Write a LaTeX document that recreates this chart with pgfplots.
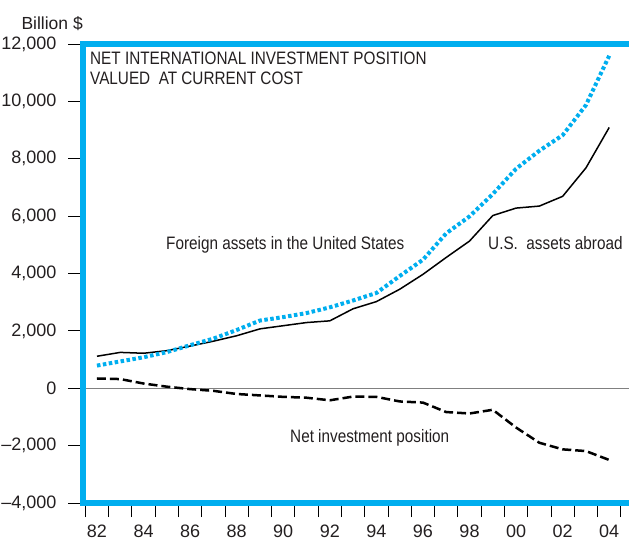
\documentclass[border=0pt]{standalone}
\usepackage{pgfplots}
\pgfplotsset{compat=1.18}
\usepackage{pgfplotstable}
\usepackage{fontspec}
\setmainfont{Liberation Sans}
\newfontfamily\condfont[FakeStretch=0.85]{Liberation Sans}
\definecolor{cyanb}{RGB}{0,174,239}
\definecolor{txt}{RGB}{35,31,32}
\pgfplotstableread{
year us foreign net
1982 1115 790 340
1983 1250 935 320
1984 1220 1080 165
1985 1310 1260 55
1986 1470 1500 -30
1987 1640 1730 -90
1988 1830 2030 -200
1989 2070 2360 -250
1990 2180 2480 -300
1991 2290 2620 -330
1992 2350 2820 -420
1993 2770 3060 -290
1994 3020 3320 -300
1995 3450 3910 -460
1996 3970 4480 -500
1997 4560 5400 -830
1998 5130 5990 -880
1999 6020 6770 -750
2000 6280 7650 -1370
2001 6350 8280 -1900
2002 6690 8820 -2130
2003 7680 9870 -2190
2004 9090 11590 -2500
}\datatable
\begin{document}
\begin{tikzpicture}
\begin{axis}[
  at={(83pt,38pt)}, anchor=south west,
  scale only axis, width=546pt, height=459pt,
  xmin=1981.4, xmax=2004.85, ymin=-4000, ymax=12000,
  axis line style={draw=none},
  clip=false,
  scaled y ticks=false,
  tick align=outside,
  xtick pos=bottom, ytick pos=left,
  ytick={-4000,-2000,...,12000},
  yticklabels={{–4,000},{–2,000},0,{2,000},{4,000},{6,000},{8,000},{10,000},{12,000}},
  xtick={1982,1984,...,2004},
  xticklabels={82,84,86,88,90,92,94,96,98,00,02,04},
  minor xtick={1981.5,1982.5,...,2004.5},
  major tick length=15pt,
  minor tick length=14pt,
  major x tick style={draw=none},
  tick style={black, line width=0.9pt},
  ticklabel style={font=\fontsize{18}{18}\selectfont, text=txt},
  yticklabel style={xshift=-8pt},
  xticklabel style={yshift=-3pt},
]
\addplot[gray, line width=1pt, forget plot] coordinates {(1981.4,0) (2004.85,0)};
\addplot[black, line width=1.5pt] table[x=year, y=us] {\datatable};
\addplot[cyanb, line width=4pt, dash pattern=on 3.5pt off 2.5pt] table[x=year, y=foreign] {\datatable};
\addplot[black, line width=2.5pt, dash pattern=on 9pt off 4pt] table[x=year, y=net] {\datatable};
\draw[cyanb, line width=6pt] (axis description cs:1.05,1) -- (axis description cs:0,1) -- (axis description cs:0,0) -- (axis description cs:1.05,0);
\end{axis}
\node[anchor=base east, text=txt, font=\fontsize{17.5}{18}\selectfont, inner sep=0pt] at (83pt,511pt) {Billion \$};
\node[anchor=base west, text=txt, font=\condfont\fontsize{18}{20}\selectfont, inner sep=0pt] at (90pt,476pt) {NET INTERNATIONAL INVESTMENT POSITION};
\node[anchor=base west, text=txt, font=\condfont\fontsize{18}{20}\selectfont, inner sep=0pt] at (90pt,456pt) {VALUED\ \ AT CURRENT COST};
\node[anchor=base west, text=txt, font=\condfont\fontsize{18}{20}\selectfont, inner sep=0pt] at (166pt,291pt) {Foreign assets in the United States};
\node[anchor=base west, text=txt, font=\condfont\fontsize{18}{20}\selectfont, inner sep=0pt] at (488pt,291pt) {U.S.\ \ assets abroad};
\node[anchor=base west, text=txt, font=\condfont\fontsize{18}{20}\selectfont, inner sep=0pt] at (290pt,99pt) {Net investment position};
\pgfresetboundingbox
\path[use as bounding box] (0pt,0pt) rectangle (629pt,541pt);
\end{tikzpicture}
\end{document}
